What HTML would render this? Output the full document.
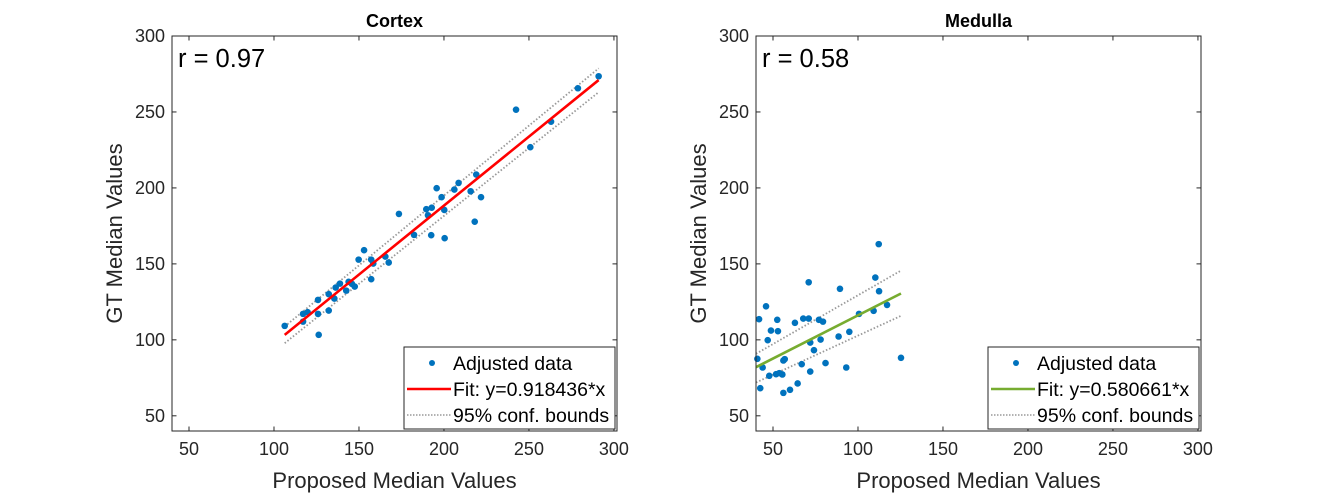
<!DOCTYPE html>
<html><head><meta charset="utf-8"><style>
body{margin:0;background:#fff;}
svg{display:block;font-family:"Liberation Sans",Arial,sans-serif;}
</style></head><body>
<svg id="fig" width="1326" height="493" viewBox="0 0 1326 493"></svg>
<script>
// ---- data ----
const xTicks = [50,100,150,200,250,300];
const yTicks = [50,100,150,200,250,300];
const cortexX = [106.3,117.1,117.1,119.8,125.9,125.9,126.3,132.2,132.2,135.5,136.3,138.8,142.5,143.9,145.9,147.5,149.8,153,157.2,157.2,158.4,165.5,167.5,173.5,182.4,189.6,190.6,192.8,192.5,195.7,198.6,200.2,200.4,206.1,208.6,215.7,218.1,219,221.8,242.4,250.8,263,278.8,291];
const cortexY = [109.2,117.1,112,118.2,126.3,117.1,103.3,130.1,119.3,127.2,134.4,137,132.4,138.2,136.8,135.1,152.8,159,152.8,139.9,150.2,154.8,150.9,182.9,169.1,186,182,187,168.9,199.8,193.9,185.5,166.9,198.9,203.3,197.8,177.8,208.8,193.9,251.5,226.8,243.6,265.6,273.5];
const cortexFitX = [106.3,291];
const cortexFitY = [103.3,271];
const cortexUpperY = [108.8,278.7];
const cortexLowerY = [97.8,263];
const medullaX = [41.8,45.9,40.8,43.9,42.5,46.9,48.8,52.9,52.5,47.8,51.8,53.7,55.5,56.1,56.9,56.1,60,64.5,62.9,67.8,71,71,71.9,74.1,66.9,71.9,77,79.4,78,80.9,89.4,88.6,93.1,94.9,100.6,109.2,110.2,112.2,112.4,117.1,125.3];
const medullaY = [113.6,122.1,87.5,81.8,68.2,99.8,106.1,105.7,113.2,76.3,77.4,78.1,77.2,86.4,87.3,65.1,67.1,71.3,111.2,114,114,137.9,98.2,93.2,84,79.1,113.2,112,100.2,84.7,133.6,102.2,81.8,105.3,117.1,119.1,141,163,132,123,88.2];
const medullaFitX = [40,125.3];
const medullaFitY = [82,130.5];
const medullaUpperY = [90.8,145.6];
const medullaLowerY = [71.9,115.8];

const NS='http://www.w3.org/2000/svg';
const svg=document.getElementById('fig');
function mk(tag,attrs,parent){const e=document.createElementNS(NS,tag);for(const k in attrs)e.setAttribute(k,attrs[k]);(parent||svg).appendChild(e);return e;}

function panel(o){
  const L=o.left,T=36,W=445,H=395,x0=40,x1=301.8,y0=40,y1=300;
  const sx=v=>L+(v-x0)/(x1-x0)*W, sy=v=>T+H-(v-y0)/(y1-y0)*H;
  const g=mk('g',{});
  
  
  xTicks.forEach(t=>{const x=sx(t);
    const l1=mk('line',{x1:x,x2:x,y1:T+H,y2:T+H-4.5,stroke:'#262626','stroke-width':1},g);
    
    mk('line',{x1:x,x2:x,y1:T,y2:T+4.5,stroke:'#262626','stroke-width':1},g);
    const tx=mk('text',{x:x,y:T+H+24,'font-size':18,fill:'#262626','text-anchor':'middle'},g);tx.textContent=t;
    
  });
  yTicks.forEach(t=>{const y=sy(t);
    const l1=mk('line',{x1:L,x2:L+4.5,y1:y,y2:y,stroke:'#262626','stroke-width':1},g);
    
    mk('line',{x1:L+W,x2:L+W-4.5,y1:y,y2:y,stroke:'#262626','stroke-width':1},g);
    const tx=mk('text',{x:L-7,y:y+6,'font-size':18,fill:'#262626','text-anchor':'end'},g);tx.textContent=t;
    
  });
  const up=mk('line',{x1:sx(o.fx[0]),y1:sy(o.uy[0]),x2:sx(o.fx[1]),y2:sy(o.uy[1]),stroke:'#999','stroke-width':1.8,'stroke-dasharray':'1.5 2'},g);
  
  const lo=mk('line',{x1:sx(o.fx[0]),y1:sy(o.ly[0]),x2:sx(o.fx[1]),y2:sy(o.ly[1]),stroke:'#999','stroke-width':1.8,'stroke-dasharray':'1.5 2'},g);
  
  o.xs.forEach((v,i)=>{const c=mk('circle',{cx:sx(v),cy:sy(o.ys[i]),r:3.3,fill:'#0072BD'},g);
    });
  const f=mk('line',{x1:sx(o.fx[0]),y1:sy(o.fy[0]),x2:sx(o.fx[1]),y2:sy(o.fy[1]),stroke:o.color,'stroke-width':2.6},g);
  
  const b=mk('rect',{x:L,y:T,width:W,height:H,fill:'none',stroke:'#262626','stroke-width':1},g);
  
  const ti=mk('text',{x:L+W/2,y:27,'font-size':18,'font-weight':'bold',fill:'#000','text-anchor':'middle'},g);ti.textContent=o.title;
  
  const r=mk('text',{x:L+6,y:67,'font-size':25.5,fill:'#000'},g);r.textContent=o.r;
  
  const xl=mk('text',{x:L+W/2,y:488,'font-size':22,fill:'#262626','text-anchor':'middle'},g);xl.textContent='Proposed Median Values';
  
  const yl=mk('text',{x:0,y:0,'font-size':22,fill:'#262626','text-anchor':'middle',transform:`translate(${L-50},${T+H/2}) rotate(-90)`},g);yl.textContent='GT Median Values';
  
  const lg=mk('g',{},g);
  
  const lx=L+W-213, ly=347;
  mk('rect',{x:lx,y:ly,width:211,height:82,fill:'#fff',stroke:'#262626','stroke-width':1},lg);
  mk('circle',{cx:lx+28,cy:ly+16,r:3,fill:'#0072BD'},lg);
  const t1=mk('text',{x:lx+49,y:ly+23,'font-size':19.5,fill:'#000'},lg);t1.textContent='Adjusted data';
  
  mk('line',{x1:lx+3,x2:lx+47,y1:ly+42,y2:ly+42,stroke:o.color,'stroke-width':2.6},lg);
  const t2=mk('text',{x:lx+49,y:ly+49,'font-size':19.5,fill:'#000'},lg);t2.textContent=o.fitLabel;
  
  mk('line',{x1:lx+3,x2:lx+47,y1:ly+68,y2:ly+68,stroke:'#999','stroke-width':1.5,'stroke-dasharray':'1.5 1.5'},lg);
  const t3=mk('text',{x:lx+49,y:ly+75,'font-size':19.5,fill:'#000'},lg);t3.textContent='95% conf. bounds';
  
}
panel({name:'cortex',left:172,title:'Cortex',r:'r = 0.97',color:'#FF0000',xs:cortexX,ys:cortexY,fx:cortexFitX,fy:cortexFitY,uy:cortexUpperY,ly:cortexLowerY,fitLabel:'Fit: y=0.918436*x'});
panel({name:'medulla',left:756,title:'Medulla',r:'r = 0.58',color:'#77AC30',xs:medullaX,ys:medullaY,fx:medullaFitX,fy:medullaFitY,uy:medullaUpperY,ly:medullaLowerY,fitLabel:'Fit: y=0.580661*x'});
</script>
</body></html>
